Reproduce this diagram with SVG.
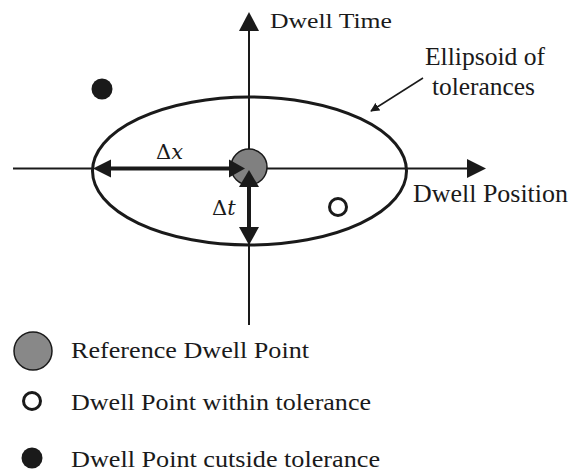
<svg xmlns="http://www.w3.org/2000/svg" width="571" height="471" viewBox="0 0 571 471">
<defs>
<marker id="ah" viewBox="0 0 10 10" refX="9" refY="5" markerWidth="9" markerHeight="9" markerUnits="userSpaceOnUse" orient="auto">
<path d="M0,0 L10,5 L0,10 z" fill="#1a1a1a"/>
</marker>
<style>
text{fill:#1a1a1a}
.ax{stroke:#1a1a1a;stroke-width:2;fill:none}
.th{stroke:#1a1a1a;stroke-width:4;fill:none}
.hd{fill:#1a1a1a}
</style>
</defs>
<rect width="571" height="471" fill="#fff"/>
<g id="ellipse">
<ellipse cx="249.5" cy="171" rx="157" ry="74" fill="none" stroke="#1a1a1a" stroke-width="3"/>
</g>
<g id="connectors">
<line class="ax" x1="13" y1="168.5" x2="92" y2="168.5"/>
<line class="ax" x1="232" y1="168.5" x2="468" y2="168.5"/>
<polygon class="hd" points="486,168.5 467,159 467,178"/>
<line class="ax" x1="249" y1="30" x2="249" y2="160"/>
<line class="ax" x1="249" y1="240" x2="249" y2="325"/>
<polygon class="hd" points="249,12 239,31 259,31"/>
<line x1="423" y1="78" x2="371" y2="111" stroke="#1a1a1a" stroke-width="1.5" marker-end="url(#ah)"/>
</g>
<g id="reference-point">
<circle cx="249" cy="167" r="18" fill="#808080" stroke="#1a1a1a" stroke-width="1.5"/>
</g>
<g id="delta-x">
<line class="th" x1="108" y1="168.5" x2="232" y2="168.5"/>
<polygon class="hd" points="93,168.5 111,159.5 111,177.5"/>
<polygon class="hd" points="245,168.5 229,159.5 229,177.5"/>
<text font-family="'DejaVu Serif', serif" font-size="21" x="156" y="159">Δ<tspan font-style="italic">x</tspan></text>
</g>
<g id="delta-t">
<line class="th" x1="249" y1="185" x2="249" y2="230"/>
<polygon class="hd" points="249,170 239,187 259,187"/>
<polygon class="hd" points="249,245 239,227 259,227"/>
<text font-family="'DejaVu Serif', serif" font-size="21" x="212" y="215">Δ<tspan font-style="italic">t</tspan></text>
</g>
<g id="outside-point">
<circle cx="102" cy="89" r="10.5" fill="#1a1a1a"/>
</g>
<g id="inside-point">
<circle cx="338" cy="207" r="8.5" fill="#fff" stroke="#1a1a1a" stroke-width="3"/>
</g>
<g id="labels" font-family="'Liberation Serif', 'Times New Roman', serif">
<text x="270" y="28" font-size="21" textLength="122" lengthAdjust="spacingAndGlyphs">Dwell Time</text>
<text x="413" y="202" font-size="26" textLength="155" lengthAdjust="spacingAndGlyphs">Dwell Position</text>
<text x="425" y="65" font-size="25" textLength="120" lengthAdjust="spacingAndGlyphs">Ellipsoid of</text>
<text x="432" y="95" font-size="25" textLength="103" lengthAdjust="spacingAndGlyphs">tolerances</text>
</g>
<g id="legend-reference" font-family="'Liberation Serif', 'Times New Roman', serif">
<circle cx="33" cy="351" r="19" fill="#888" stroke="#1a1a1a" stroke-width="1.5"/>
<text x="71" y="358" font-size="23" textLength="238" lengthAdjust="spacingAndGlyphs">Reference Dwell Point</text>
</g>
<g id="legend-within" font-family="'Liberation Serif', 'Times New Roman', serif">
<circle cx="32" cy="401" r="8.5" fill="#fff" stroke="#1a1a1a" stroke-width="3"/>
<text x="71" y="410" font-size="23" textLength="300" lengthAdjust="spacingAndGlyphs">Dwell Point within tolerance</text>
</g>
<g id="legend-outside" font-family="'Liberation Serif', 'Times New Roman', serif">
<circle cx="32" cy="458" r="10.5" fill="#1a1a1a"/>
<text x="71" y="467" font-size="23" textLength="309" lengthAdjust="spacingAndGlyphs">Dwell Point cutside tolerance</text>
</g>
</svg>
